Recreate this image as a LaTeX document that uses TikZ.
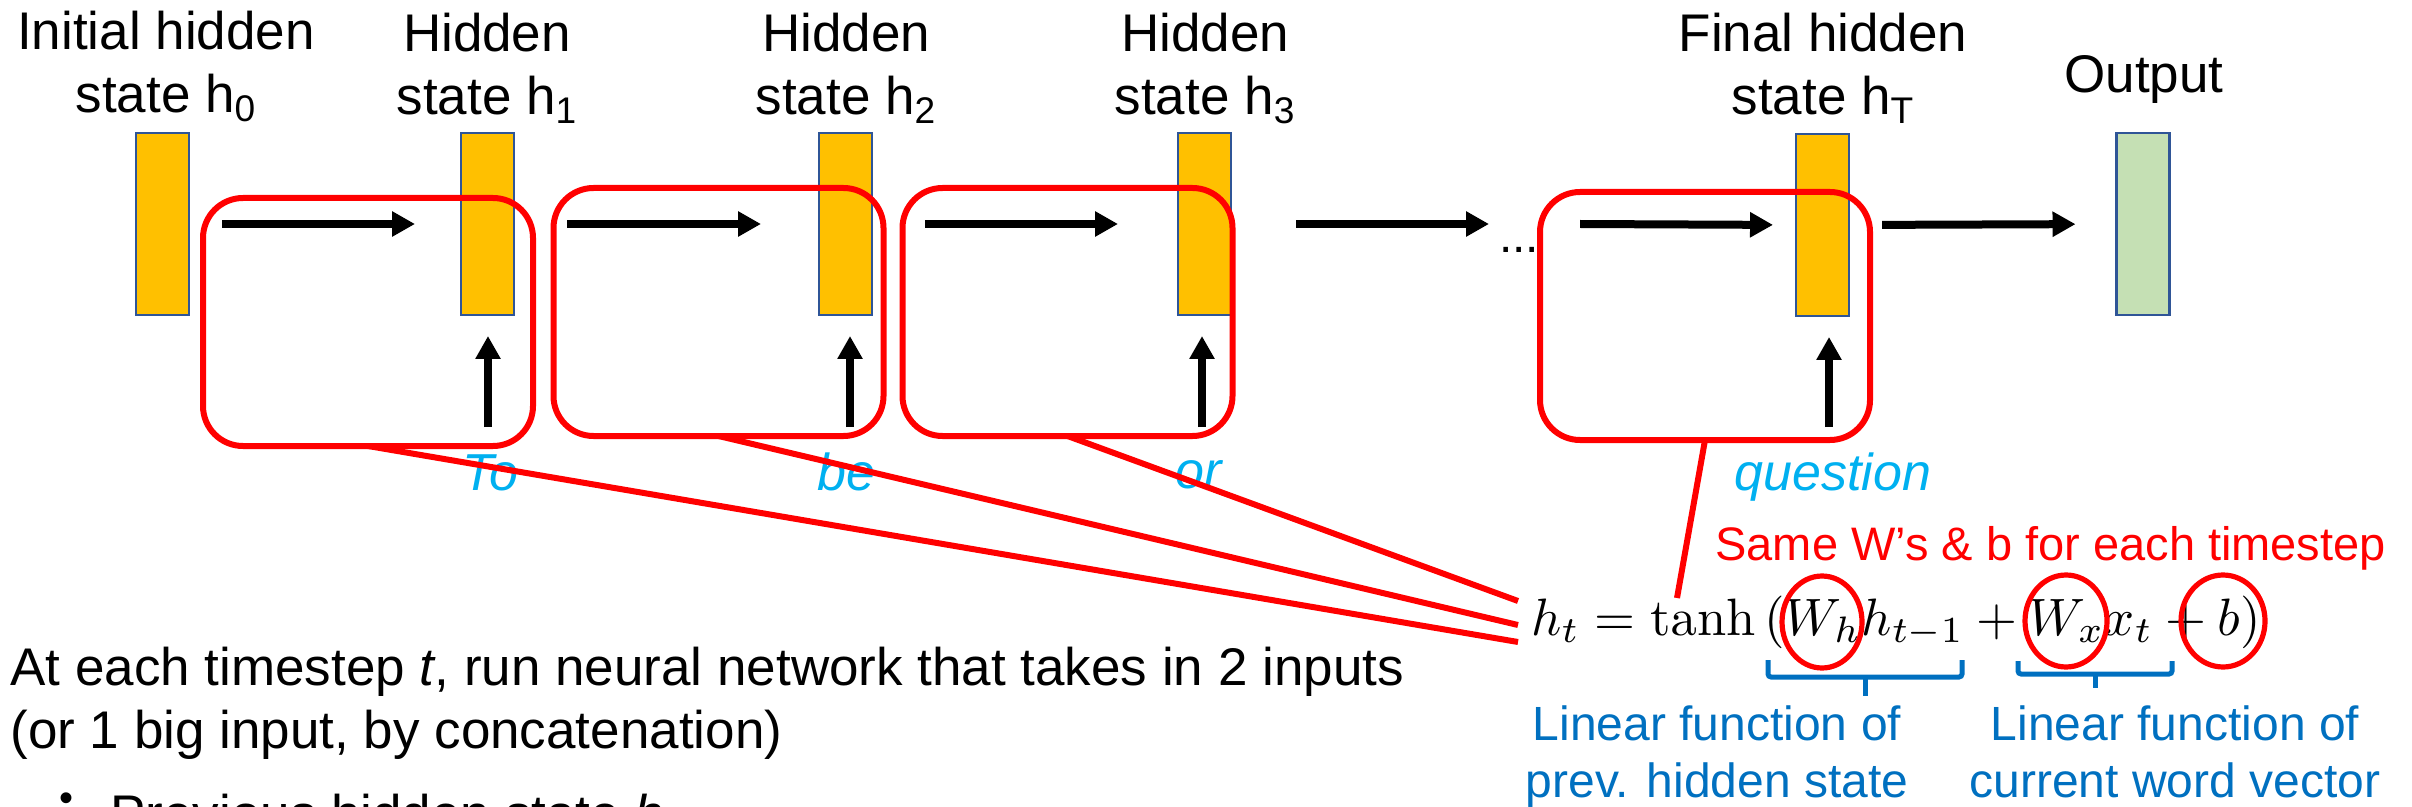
\documentclass[tikz,border=0pt]{standalone}
\usepackage{graphicx}
\usepackage[no-math]{fontspec}
\setmainfont{Liberation Sans}
\usetikzlibrary{arrows.meta}

\definecolor{stateorange}{HTML}{FFC000}
\definecolor{outgreen}{HTML}{C5E0B4}
\definecolor{edgeblue}{HTML}{2F5597}
\definecolor{wordcyan}{HTML}{00B0F0}
\definecolor{noteblue}{HTML}{0070C0}
\definecolor{cellred}{HTML}{FF0000}

\tikzset{
  hstate/.style={draw=edgeblue, line width=1.2pt, fill=stateorange,
    minimum width=26.5pt, minimum height=91pt, inner sep=0pt, outer sep=0pt},
  ostate/.style={hstate, fill=outgreen},
  cell/.style={draw=cellred, line width=3pt, rounded corners=20pt,
    minimum width=165pt, minimum height=124pt, inner sep=0pt, outer sep=0pt},
  flow/.style={line width=4pt, -{Triangle[length=11.5pt,width=12pt]}},
  lbl/.style={font=\fontsize{26.5}{31.5}\selectfont, align=center, inner sep=0pt, anchor=base},
  word/.style={font=\fontsize{26}{31}\selectfont\itshape, text=wordcyan, inner sep=0pt, anchor=base},
  link/.style={draw=cellred, line width=3pt},
  ring/.style={draw=cellred, line width=2.6pt},
  brace/.style={draw=noteblue, line width=2.5pt, rounded corners=1.5pt},
  note/.style={font=\fontsize{24}{28.5}\selectfont, text=noteblue, align=center, inner sep=0pt, anchor=base},
  body/.style={font=\fontsize{26.5}{31.5}\selectfont, inner sep=0pt, anchor=base west},
}

\begin{document}
\begin{tikzpicture}[x=0.5pt, y=-0.5pt]
  \clip (0,0) rectangle (2412,807);

  % state vectors
  \node[hstate] (h0) at (162.5,224) {};
  \node[hstate] (h1) at (487.5,224) {};
  \node[hstate] (h2) at (845.5,224) {};
  \node[hstate] (h3) at (1204.5,224) {};
  \node[hstate] (hT) at (1822.5,225) {};
  \node[ostate] (out) at (2143,224) {};

  % captions above the vectors (anchored on the last line)
  \node[lbl] (l0) at (166,113) {Initial hidden\\state h\textsubscript{0}};
  \node[lbl] (l1) at (487,115) {Hidden\\state h\textsubscript{1}};
  \node[lbl] (l2) at (846,115) {Hidden\\state h\textsubscript{2}};
  \node[lbl] (l3) at (1205,115) {Hidden\\state h\textsubscript{3}};
  \node[lbl] (lT) at (1823,115) {Final hidden\\state h\textsubscript{T}};
  \node[lbl] (lo) at (2144,93) {Output};

  % recurrent cells
  \node[cell] (c1) at (368,322) {};
  \node[cell] (c2) at (718.5,312) {};
  \node[cell] (c3) at (1067.5,312) {};
  \node[cell] (c4) at (1705,316) {};

  % hidden-to-hidden arrows
  \coordinate (a4end) at (1489,224);
  \coordinate (a5start) at (1580,224);
  \draw[flow, shorten <=16.5pt, shorten >=23pt] (h0.east) -- (h1.west);
  \draw[flow, shorten <=26.5pt, shorten >=29pt] (h1.east) -- (h2.west);
  \draw[flow, shorten <=26.5pt, shorten >=30pt] (h2.east) -- (h3.west);
  \draw[flow, shorten <=32.5pt] (h3.east) -- (a4end);
  \node[font=\fontsize{24}{28}\selectfont, inner sep=0pt, anchor=base] (dots) at (1519,253) {...};
  \draw[flow, shorten >=11.5pt] (a5start) -- (hT.west);
  \draw[flow, shorten <=16.5pt, shorten >=20.5pt] (hT.east) -- (out.west);

  % input arrows
  \coordinate (in1) at (488,427);
  \coordinate (in2) at (850,427);
  \coordinate (in3) at (1202,427);
  \coordinate (in4) at (1829,427);
  \draw[flow, shorten >=10.5pt] (in1) -- (in1 |- h1.south);
  \draw[flow, shorten >=10.5pt] (in2) -- (in2 |- h2.south);
  \draw[flow, shorten >=10.5pt] (in3) -- (in3 |- h3.south);
  \draw[flow, shorten >=10.5pt] (in4) -- (in4 |- hT.south);

  % input words
  \node[word] (w1) at (490,490) {To};
  \node[word] (w2) at (846,490) {be};
  \node[word] (w3) at (1199,488) {or};
  \node[word] (w4) at (1833,490) {question};

  % update equation
  \node[inner sep=0pt, anchor=base west] (eq) at (1531,635)
    {\scalebox{2.63}{$h_t = \tanh\left(W_h h_{t-1} + W_x x_t + b\right)$}};
  \node[font=\fontsize{23.5}{28}\selectfont, text=cellred, inner sep=0pt, anchor=base west] (same) at (1715,560)
    {Same W’s \& b for each timestep};

  % cells all feed the same equation
  \coordinate (e1) at (1518,642);
  \coordinate (e2) at (1518,625);
  \coordinate (e3) at (1518,601);
  \coordinate (e4) at (1677,598);
  \draw[link] (c1.south) -- (e1);
  \draw[link] (c2.south) -- (e2);
  \draw[link] (c3.south) -- (e3);
  \draw[link] (c4.south) -- (e4);

  % shared parameters
  \draw[ring] (1822,622) ellipse [x radius=40, y radius=46];
  \draw[ring] (2066,621) ellipse [x radius=41, y radius=46];
  \draw[ring] (2223,621) ellipse [x radius=42, y radius=46];

  % underbraces and their notes
  \draw[brace] (1768,660) -- (1768,677) -- (1962,677) -- (1962,660);
  \draw[brace] (1865,677) -- (1865,696);
  \draw[brace] (2018,661) -- (2018,674) -- (2172,674) -- (2172,661);
  \draw[brace] (2095,674) -- (2095,688);
  \node[note] (n1) at (1717,797) {Linear function of\\prev. hidden state};
  \node[note] (n2) at (2175,797) {Linear function of\\current word vector};

  % explanation text
  \node[body] (t1) at (10,685) {At each timestep \textit{t}, run neural network that takes in 2 inputs};
  \node[body] (t2) at (10,748) {(or 1 big input, by concatenation)};
  \node[font=\fontsize{20}{24}\selectfont, inner sep=0pt, anchor=base] (b1) at (67,811) {•};
  \node[body] (t3) at (110,832) {Previous hidden state \textit{h}\textsubscript{\textit{t}-1}};
\end{tikzpicture}
\end{document}
